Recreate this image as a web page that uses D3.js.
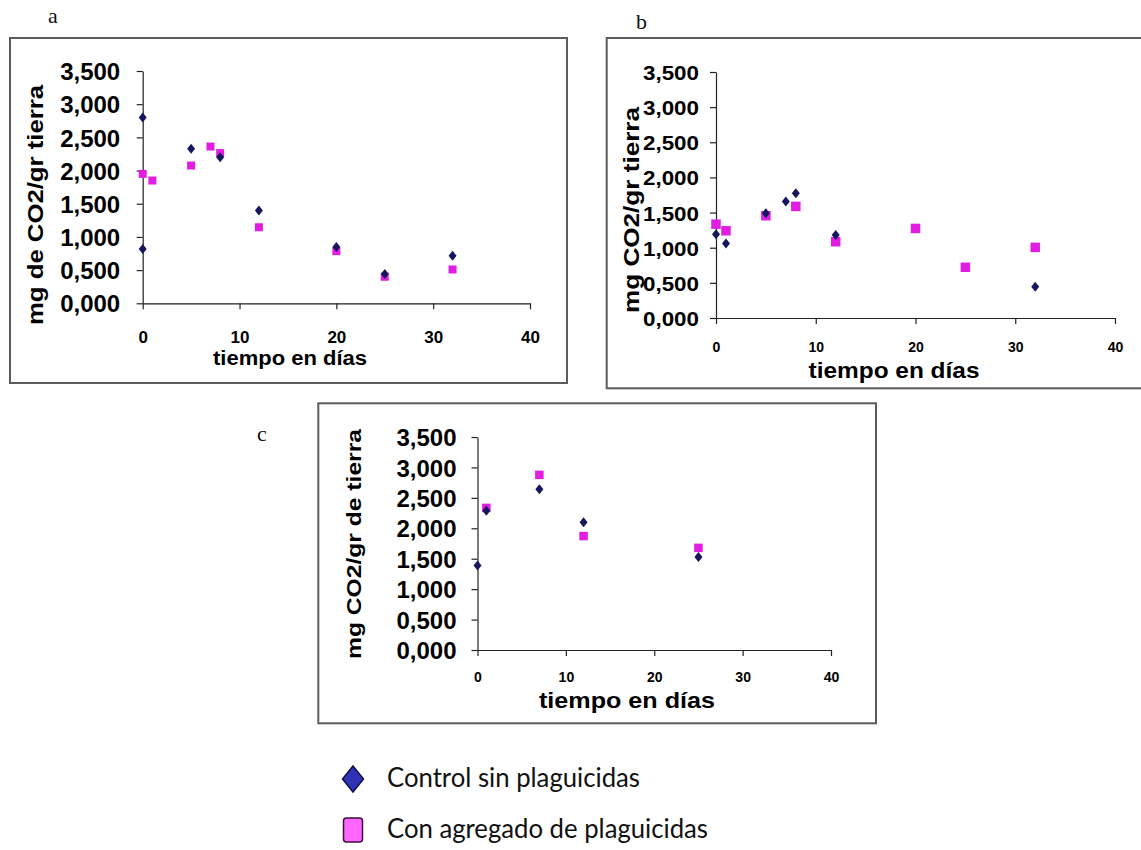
<!DOCTYPE html>
<html><head><meta charset="utf-8">
<script src="https://cdn.jsdelivr.net/npm/d3@7"></script>
<style>body{margin:0;background:#fff} svg{display:block}</style>
</head><body><svg id="chart" width="1141" height="850"></svg>
<script>
// ---- data ----
const xTicks = [0, 10, 20, 30, 40];
const yTicks = [0, 0.5, 1, 1.5, 2, 2.5, 3, 3.5];
const xTitle = "tiempo en días";
const panelNames = ["a", "b", "c"];
const yTitles = ["mg de CO2/gr tierra", "mg CO2/gr tierra", "mg CO2/gr de tierra"];
// panel a
const aControlDays = [0, 0, 5, 8, 12, 20, 25, 32];
const aControlVals = [2.800, 0.820, 2.330, 2.200, 1.400, 0.850, 0.440, 0.716];
const aPestDays = [0, 1, 5, 7, 8, 12, 20, 25, 32];
const aPestVals = [1.950, 1.850, 2.076, 2.362, 2.263, 1.146, 0.786, 0.400, 0.510];
// panel b
const bControlDays = [0, 1, 5, 7, 8, 12, 32];
const bControlVals = [1.190, 1.060, 1.490, 1.656, 1.774, 1.180, 0.443];
const bPestDays = [0, 1, 5, 8, 12, 20, 25, 32];
const bPestVals = [1.335, 1.241, 1.455, 1.588, 1.085, 1.274, 0.722, 1.005];
// panel c
const cControlDays = [0, 1, 7, 12, 25];
const cControlVals = [1.390, 2.290, 2.640, 2.100, 1.530];
const cPestDays = [1, 7, 12, 25];
const cPestVals = [2.335, 2.878, 1.872, 1.678];
const legendLabels = ["Control sin plaguicidas", "Con agregado de plaguicidas"];

// ---- layout ----
const svg = d3.select("#chart");
const loc = d3.formatLocale({decimal: ",", thousands: ".", grouping: [3], currency: ["", ""]});
const fmt = loc.format(".3f");
const ctrlColor = "#16165e", pestColor = "#e21de2";

const layouts = [
  {box: [10, 38, 567, 383], x: [142.7, 530], y: [303.3, 71], label: [48, 23],
   yFont: 24, yPad: 16.5, yTitle: {x: 35, y: 205, len: 240, font: 22},
   xFont: 17, xBase: 40, xTitleP: {x: 290, y: 365, len: 154, font: 20}, sq: 8, dm: [4, 5]},
  {box: [606.7, 38, 1160, 388.3], x: [716, 1115], y: [318, 72], label: [636, 29],
   yFont: 21, yPad: 11, yLen: 56, yTitle: {x: 631, y: 210, len: 206, font: 22},
   xFont: 14, xBase: 34, xTitleP: {x: 894, y: 378, len: 171, font: 22}, sq: 9.5, dm: [4, 5]},
  {box: [318.3, 403.3, 876, 723.3], x: [477.5, 831], y: [650, 437], label: [257, 441],
   yFont: 24, yPad: 15, yTitle: {x: 354, y: 544, len: 230, font: 21},
   xFont: 14, xBase: 32, xTitleP: {x: 627, y: 708, len: 176, font: 22}, sq: 8.5, dm: [4, 5]}
];

const series = [
  [aControlDays, aControlVals, aPestDays, aPestVals],
  [bControlDays, bControlVals, bPestDays, bPestVals],
  [cControlDays, cControlVals, cPestDays, cPestVals]
];

function diamondPath(cx, cy, hw, hh) {
  return `M${cx},${cy - hh}L${cx + hw},${cy}L${cx},${cy + hh}L${cx - hw},${cy}Z`;
}

layouts.forEach((L, i) => {
  const g = svg.append("g");
  g.append("rect").attr("x", L.box[0]).attr("y", L.box[1])
    .attr("width", L.box[2] - L.box[0]).attr("height", L.box[3] - L.box[1])
    .attr("fill", "#fff").attr("stroke", "#5c5c5c").attr("stroke-width", 2);
  svg.append("text").attr("x", L.label[0]).attr("y", L.label[1])
    .attr("font-family", "Liberation Serif").attr("font-size", 22).attr("fill", "#111")
    .text(panelNames[i]);

  const x = d3.scaleLinear().domain([0, 40]).range(L.x);
  const y = d3.scaleLinear().domain([0, 3.5]).range(L.y);

  const ya = g.append("g").attr("transform", `translate(${L.x[0]},0)`)
    .call(d3.axisLeft(y).tickValues(yTicks).tickFormat(fmt).tickSize(6).tickPadding(L.yPad).tickSizeOuter(0));
  ya.selectAll("text").attr("font-family", "Liberation Sans").attr("font-weight", "bold")
    .attr("font-size", L.yFont).attr("fill", "#000").attr("dy", "0.36em");
  if (L.yLen) ya.selectAll("text").attr("textLength", L.yLen).attr("lengthAdjust", "spacingAndGlyphs");

  const xa = g.append("g").attr("transform", `translate(0,${L.y[0]})`)
    .call(d3.axisBottom(x).tickValues(xTicks).tickFormat(d3.format("d")).tickSize(6).tickSizeOuter(0));
  xa.selectAll("text").attr("font-family", "Liberation Sans").attr("font-weight", "bold")
    .attr("font-size", L.xFont).attr("fill", "#000").attr("y", L.xBase).attr("dy", null);
  [ya, xa].forEach(a => {
    a.select(".domain").attr("stroke", "#222").attr("stroke-width", 1.2);
    a.selectAll(".tick line").attr("stroke", "#222").attr("stroke-width", 1.2);
  });

  // y title
  g.append("text")
    .attr("transform", `translate(${L.yTitle.x},${L.yTitle.y}) rotate(-90)`)
    .attr("text-anchor", "middle").attr("dy", "0.35em")
    .attr("font-family", "Liberation Sans").attr("font-weight", "bold")
    .attr("font-size", L.yTitle.font).attr("fill", "#000")
    .attr("textLength", L.yTitle.len).attr("lengthAdjust", "spacingAndGlyphs")
    .text(yTitles[i]);
  // x title
  g.append("text").attr("x", L.xTitleP.x).attr("y", L.xTitleP.y)
    .attr("text-anchor", "middle")
    .attr("font-family", "Liberation Sans").attr("font-weight", "bold")
    .attr("font-size", L.xTitleP.font).attr("fill", "#000")
    .attr("textLength", L.xTitleP.len).attr("lengthAdjust", "spacingAndGlyphs")
    .text(xTitle);

  const [cd, cv, pd, pv] = series[i];
  const ctrl = cd.map((d, k) => ({d, v: cv[k]}));
  const pest = pd.map((d, k) => ({d, v: pv[k]}));
  g.selectAll(".sq").data(pest).join("rect")
    .attr("x", p => x(p.d) - L.sq / 2).attr("y", p => y(p.v) - L.sq / 2)
    .attr("width", L.sq).attr("height", L.sq).attr("fill", pestColor);
  g.selectAll(".dm").data(ctrl).join("path")
    .attr("d", p => diamondPath(x(p.d), y(p.v), L.dm[0], L.dm[1]))
    .attr("fill", ctrlColor);
});

// legend
const lg = svg.append("g");
lg.append("path").attr("d", diamondPath(353, 779, 10.5, 13))
  .attr("fill", "#3131b5").attr("stroke", "#10104a").attr("stroke-width", 1.5);
lg.append("rect").attr("x", 343.5).attr("y", 818).attr("width", 19).attr("height", 24).attr("rx", 3)
  .attr("fill", "#ff66ff").attr("stroke", "#3a103a").attr("stroke-width", 1.5);
lg.append("text").attr("x", 387).attr("y", 787).attr("font-family", "Lato").attr("font-size", 26)
  .attr("fill", "#111").attr("textLength", 253).attr("lengthAdjust", "spacingAndGlyphs").text(legendLabels[0]);
lg.append("text").attr("x", 387).attr("y", 838).attr("font-family", "Lato").attr("font-size", 26)
  .attr("fill", "#111").attr("textLength", 321).attr("lengthAdjust", "spacingAndGlyphs").text(legendLabels[1]);
</script></body></html>
